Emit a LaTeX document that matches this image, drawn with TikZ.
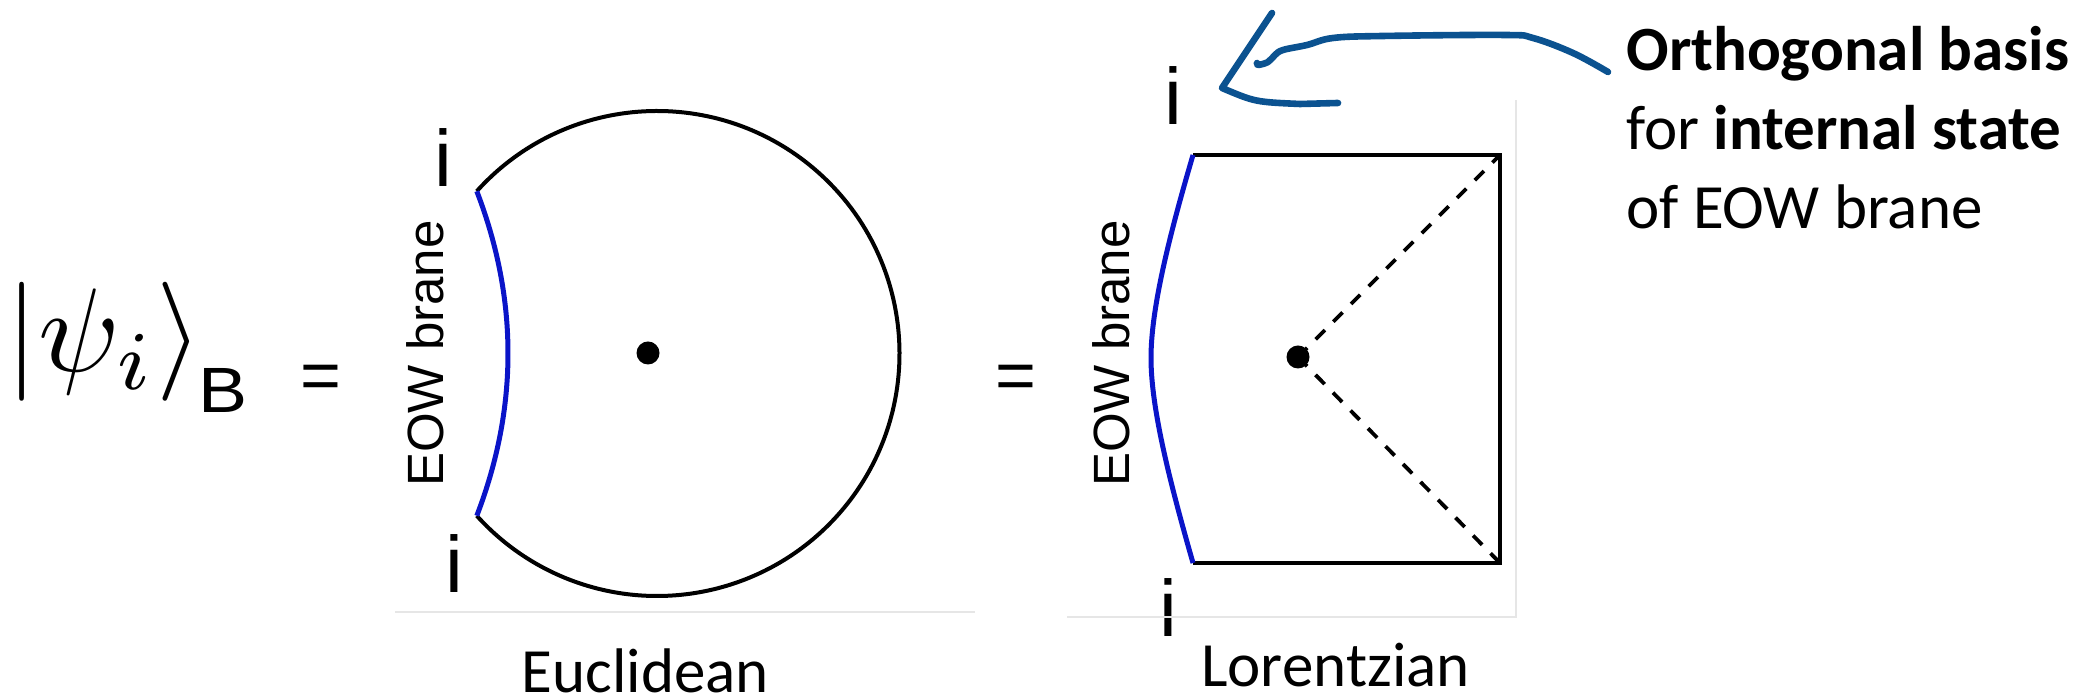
\documentclass[tikz,border=0pt]{standalone}
\usepackage{fontspec}
\setmainfont{Carlito}
\newfontfamily\arialfont{Liberation Sans}
\usetikzlibrary{calc}
\definecolor{braneblue}{HTML}{0A14C8}
\definecolor{inkblue}{HTML}{0B5290}
\definecolor{rimgray}{HTML}{E6E6E6}

\begin{document}
\begin{tikzpicture}[x=0.5pt,y=0.5pt,
 wall/.style={line width=2pt},
 brane/.style={draw=braneblue,line width=2.5pt},
 nullray/.style={line width=1.9pt,dash pattern=on 6.5pt off 6pt},
 rim/.style={draw=rimgray,line width=0.6pt},
 ink/.style={draw=inkblue,line width=3.3pt,line cap=round,line join=round},
 lbl/.style={inner sep=0,rotate=90,font=\arialfont\fontsize{25.5}{28}\selectfont},
 idx/.style={inner sep=0,font=\arialfont\fontsize{40}{48}\selectfont},
 eq/.style={inner sep=0,anchor=base,font=\arialfont\fontsize{35}{40}\selectfont},
 capt/.style={inner sep=0,anchor=base,font=\fontsize{31.5}{38}\selectfont},
 txt/.style={inner sep=0,anchor=base west,font=\fontsize{31.5}{38}\selectfont}]
 \useasboundingbox (0,0) rectangle (2087,700);
 % state
 \node[inner sep=0,anchor=base west] (ket) at (5.5,328) {\scalebox{5.95}{$\vert\psi_i\rangle$}};
 \node[inner sep=0,anchor=base west,font=\arialfont\fontsize{32}{34}\selectfont] (sub) at (198,287) {\scalebox{1.15}[1]{B}};
 \node[eq] (eq1) at (321,300) {=};
 \node[eq] (eq2) at (1016,300) {=};
 % Euclidean
 \coordinate (ec) at (657,346.5);
 \coordinate (eT) at ($(ec)+(138:242.5)$);
 \coordinate (eB) at ($(ec)+(-138:242.5)$);
 \draw[wall] (eT) arc[start angle=138,end angle=-138,radius=121.25pt];
 \draw[brane] (eT) .. controls +(41.6,-108.2) and +(41.6,108.2) .. (eB);
 \fill (648,347) circle[radius=5.75pt];
 \node[lbl] (eb1) at (425.5,346.5) {EOW brane};
 \node[idx] (ei1) at (443,542.5) {i};
 \node[idx] (ei2) at (454,136.5) {i};
 \draw[rim] (395,88) -- (975,88);
 \node[capt] (euc) at (645.5,7) {Euclidean};
 % Lorentzian
 \coordinate (lTL) at (1193,545);
 \coordinate (lTR) at (1500,545);
 \coordinate (lBR) at (1500,137);
 \coordinate (lBL) at (1193,137);
 \coordinate (lM) at (1151,342);
 \coordinate (lc) at (1298,343);
 \draw[wall] (lTL) -- (lTR) -- (lBR) -- (lBL);
 \draw[brane] (lTL) .. controls (1168,460) and (1151,390) .. (lM) .. controls (1151,294) and (1168,224) .. (lBL);
 \draw[nullray] (lc) -- (lTR);
 \draw[nullray] (lc) -- (lBR);
 \fill (lc) circle[radius=5.75pt];
 \node[lbl] (eb2) at (1111.5,346.5) {EOW brane};
 \node[idx] (li1) at (1173,604) {i};
 \node[idx] (li2) at (1168,92.5) {i};
 \draw[rim] (1516,600) -- (1516,83) -- (1067,83);
 \node[capt] (lor) at (1335.5,13) {Lorentzian};
 % note
 \node[txt] (t1) at (1626,629) {\textbf{Orthogonal basis}};
 \node[txt] (t2) at ([yshift=-39.5pt]t1.base west) {for \textbf{internal state}};
 \node[txt] (t3) at ([yshift=-39.5pt]t2.base west) {of EOW brane};
 \coordinate (tail) at (1608,628);
 \coordinate (head) at (1222,612);
 \draw[ink] plot[smooth,tension=0.6] coordinates {(tail) (1573,647) (1533,662) (1505,665) (1383,664) (1333,662) (1307,655) (1283,650) (1275,645) (1268,638) (1258,635) (1257,637)};
 \draw[ink] (1272,687) -- (head) .. controls (1255,598) .. (1300,596) -- (1338,597);
\end{tikzpicture}
\end{document}
